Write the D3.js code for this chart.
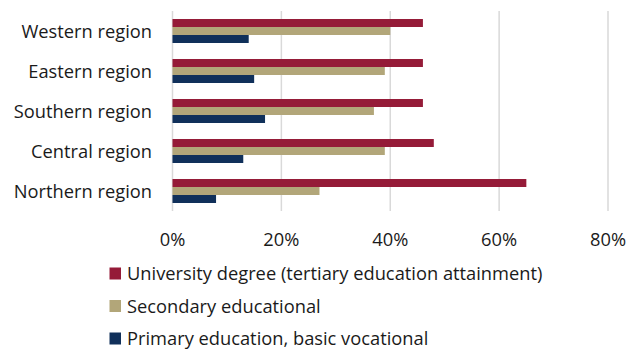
<!DOCTYPE html>
<html>
<head>
<meta charset="utf-8">
<script src="https://cdn.jsdelivr.net/npm/d3@7"></script>
<style>
  html, body { margin: 0; padding: 0; background: #fff; }
  svg { display: block; }
  text { font-family: "Open Sans", Lato, sans-serif; fill: #1a1a1a; }
</style>
</head>
<body>
<svg id="chart" width="628" height="349"></svg>
<script>
// Regions, top to bottom
const regions = ["Western region", "Eastern region", "Southern region", "Central region", "Northern region"];
// Share of population by highest education level (%)
const university = [46, 46, 46, 48, 65];
const secondary = [40, 39, 37, 39, 27];
const primary = [14, 15, 17, 13, 8];
const seriesNames = [
  "University degree (tertiary education attainment)",
  "Secondary educational",
  "Primary education, basic vocational"
];
const seriesColors = ["#951B38", "#B2A679", "#10305A"];
const xTicks = [0, 20, 40, 60, 80];

const seriesValues = [university, secondary, primary];

const svg = d3.select("#chart");
const plotTop = 11, plotBottom = 211;
const fontSize = 18.3;

const x = d3.scaleLinear().domain([0, 80]).range([172.5, 608]);
const y = d3.scaleBand().domain(regions).range([plotTop, plotBottom]).paddingInner(0.4).paddingOuter(0.2);
const ySub = d3.scaleBand().domain(d3.range(3)).range([0, y.bandwidth()]);

// Vertical gridlines
svg.append("g")
  .selectAll("line")
  .data(xTicks)
  .join("line")
  .attr("x1", d => x(d)).attr("x2", d => x(d))
  .attr("y1", plotTop).attr("y2", plotBottom)
  .attr("stroke", "#d9d9d9")
  .attr("stroke-width", 1.5);

// Bars
const groups = svg.append("g")
  .selectAll("g")
  .data(regions)
  .join("g")
  .attr("transform", d => `translate(0,${y(d)})`);

groups.selectAll("rect")
  .data((d, i) => seriesValues.map((vals, s) => ({ s, v: vals[i] })))
  .join("rect")
  .attr("x", x(0))
  .attr("y", d => ySub(d.s))
  .attr("width", d => x(d.v) - x(0))
  .attr("height", ySub.bandwidth())
  .attr("fill", d => seriesColors[d.s]);

// Category labels
svg.append("g")
  .selectAll("text")
  .data(regions)
  .join("text")
  .attr("x", 152)
  .attr("y", d => y(d) + y.bandwidth() / 2)
  .attr("dy", "0.36em")
  .attr("text-anchor", "end")
  .attr("font-size", fontSize)
  .text(d => d);

// X tick labels
svg.append("g")
  .selectAll("text")
  .data(xTicks)
  .join("text")
  .attr("x", d => x(d))
  .attr("y", 246)
  .attr("text-anchor", "middle")
  .attr("font-size", fontSize)
  .text(d => d + "%");

// Legend
const legend = svg.append("g")
  .selectAll("g")
  .data(seriesNames)
  .join("g")
  .attr("transform", (d, i) => `translate(109.5,${280 + i * 32.5})`);

legend.append("rect")
  .attr("x", 0).attr("y", -12.5)
  .attr("width", 11.5).attr("height", 12)
  .attr("fill", (d, i) => seriesColors[i]);

legend.append("text")
  .attr("x", 17.5)
  .attr("y", 0)
  .attr("font-size", fontSize)
  .text(d => d);
</script>
</body>
</html>
